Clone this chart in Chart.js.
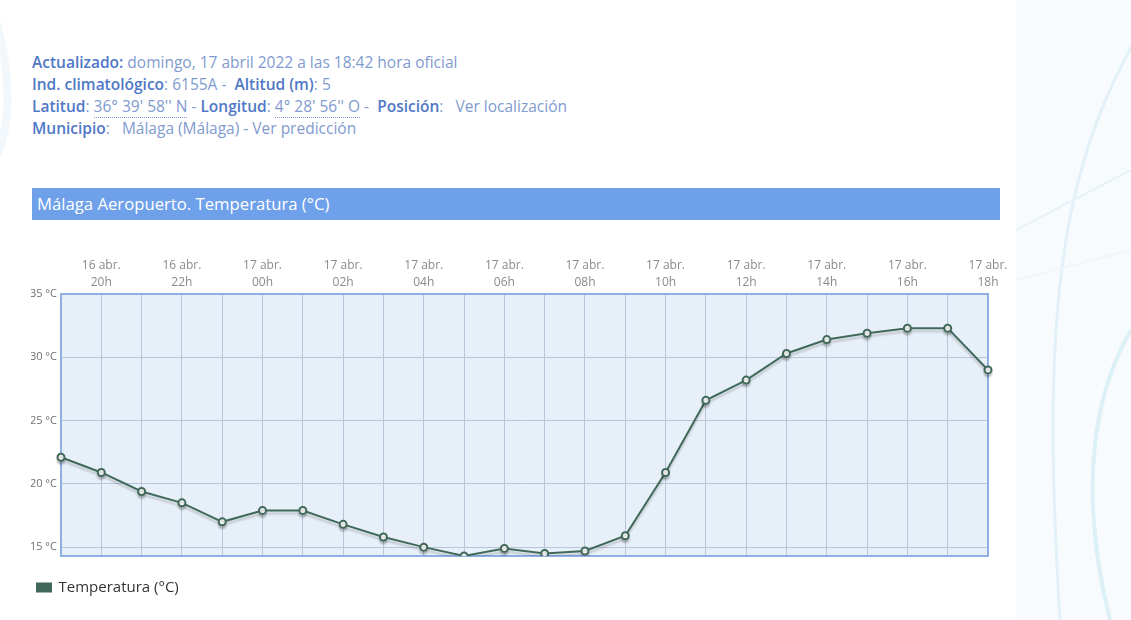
<!DOCTYPE html>
<html>
<head>
<meta charset="utf-8">
<script src="https://cdn.jsdelivr.net/npm/chart.js@4"></script>
<style>
  body { margin: 0; width: 1131px; height: 620px; overflow: hidden; background: #fff; font-family: "Open Sans", sans-serif; position: relative; }
  #deco { position: absolute; left: 0; top: 0; width: 1131px; height: 620px; }
  #info { position: absolute; left: 32px; top: 51px; font-size: 15.5px; line-height: 22px; color: #7f9bd0; }
  #info b { color: #4f78c6; font-weight: 600; }
  #info .dot { border-bottom: 1px dotted #7f9bd0; }
  #bar { position: absolute; left: 32px; top: 188px; width: 968px; height: 32px; background: #6fa0ea; color: #fff; font-size: 16.7px; line-height: 32px; }
  #bar span { padding-left: 5px; }
  #wrap { position: absolute; left: 0; top: 240px; width: 1012px; height: 365px; }
</style>
</head>
<body>
<svg id="deco" viewBox="0 0 1131 620">
  <rect x="1016" y="0" width="115" height="620" fill="#f8fbfd"/>
  <path d="M1160 0 C1060 150 1040 300 1060 620" stroke="#e2f1f8" stroke-width="3" fill="none"/>
  <path d="M1131 330 C1090 400 1080 500 1110 620" stroke="#dcf0f8" stroke-width="4" fill="none"/>
  <path d="M1016 230 L1131 170" stroke="#e8f3f8" stroke-width="2" fill="none"/>
  <path d="M1016 280 L1131 250" stroke="#eef6fa" stroke-width="2" fill="none"/>
  <path d="M-20 180 C20 140 10 60 -10 0" stroke="#f1f7fb" stroke-width="8" fill="none"/>
</svg>

<div id="info">
  <div><b>Actualizado:</b> domingo, 17 abril 2022 a las 18:42 hora oficial</div>
  <div><b>Ind. climatológico</b>: 6155A -&nbsp; <b>Altitud (m)</b>: 5</div>
  <div><b>Latitud</b>: <span class="dot">36° 39' 58'' N</span> - <b>Longitud</b>: <span class="dot">4° 28' 56'' O</span> -&nbsp; <b>Posición</b>:&nbsp;&nbsp; Ver localización</div>
  <div><b>Municipio</b>:&nbsp;&nbsp; Málaga (Málaga) - Ver predicción</div>
</div>

<div id="bar"><span>Málaga Aeropuerto. Temperatura (°C)</span></div>

<div id="wrap"><canvas id="tempChart"></canvas></div>

<script>
// Hourly observations, 16 abr. 19h -> 17 abr. 18h
const days = ['16 abr.', '16 abr.', '16 abr.', '16 abr.', '16 abr.',
              '17 abr.', '17 abr.', '17 abr.', '17 abr.', '17 abr.', '17 abr.', '17 abr.',
              '17 abr.', '17 abr.', '17 abr.', '17 abr.', '17 abr.', '17 abr.', '17 abr.',
              '17 abr.', '17 abr.', '17 abr.', '17 abr.', '17 abr.'];
const hours = ['19h', '20h', '21h', '22h', '23h', '00h', '01h', '02h', '03h', '04h', '05h', '06h',
               '07h', '08h', '09h', '10h', '11h', '12h', '13h', '14h', '15h', '16h', '17h', '18h'];
const temps = [22.1, 20.9, 19.4, 18.5, 17.0, 17.9, 17.9, 16.8, 15.8, 15.0, 14.3, 14.9,
               14.5, 14.7, 15.9, 20.9, 26.6, 28.2, 30.3, 31.4, 31.9, 32.3, 32.3, 29.0];

const lineColor = '#41695a';

// plot background + frame, drawn under the line
const plotFrame = {
    id: 'plotFrame',
    beforeDraw(chart) {
        const a = chart.chartArea, ctx = chart.ctx;
        ctx.save();
        ctx.fillStyle = '#e7eff9';
        ctx.fillRect(a.left, a.top, a.right - a.left, a.bottom - a.top);
        ctx.restore();
    },
    beforeDatasetsDraw(chart) {
        const a = chart.chartArea, ctx = chart.ctx;
        ctx.save();
        ctx.strokeStyle = '#8eb0e4';
        ctx.lineWidth = 2;
        ctx.strokeRect(a.left, a.top, a.right - a.left, a.bottom - a.top);
        ctx.restore();
    },
    beforeDatasetDraw(chart) {
        const ctx = chart.ctx;
        ctx.save();
        ctx.shadowColor = 'rgba(0,0,0,0.18)';
        ctx.shadowOffsetY = 3;
        ctx.shadowBlur = 2;
    },
    afterDatasetDraw(chart) {
        chart.ctx.restore();
    }
};

new Chart(document.getElementById('tempChart'), {
    type: 'line',
    data: {
        labels: hours,
        datasets: [{
            label: 'Temperatura (°C)',
            data: temps,
            borderColor: lineColor,
            backgroundColor: lineColor,
            borderWidth: 2,
            pointRadius: 3.5,
            pointBorderWidth: 2,
            pointBackgroundColor: '#fff',
            pointBorderColor: lineColor,
            tension: 0
        }]
    },
    options: {
        responsive: true,
        maintainAspectRatio: false,
        animation: false,
        layout: { padding: { left: 31, right: 24, top: 0, bottom: 0 } },
        plugins: {
            legend: {
                position: 'bottom',
                align: 'start',
                // empty title only used as spacing above the legend item
                title: { display: true, text: ' ', font: { size: 10 }, padding: { top: 6, bottom: 0 } },
                labels: {
                    boxWidth: 14,
                    boxHeight: 8,
                    padding: 6,
                    color: '#333',
                    font: { family: 'Open Sans', size: 15 }
                }
            },
            tooltip: { enabled: false }
        },
        scales: {
            x: {
                position: 'top',
                offset: false,
                afterFit(scale) { scale.height = 54; },
                grid: { color: '#b9c5d8', drawTicks: false },
                border: { display: false },
                ticks: {
                    autoSkip: false,
                    maxRotation: 0,
                    padding: 3,
                    color: '#8a8a8a',
                    font: { family: 'Open Sans', size: 12, lineHeight: 1.4 },
                    callback: (v, i) => i % 2 === 1 ? [days[i], hours[i]] : ''
                }
            },
            y: {
                min: 14.3,
                max: 35,
                afterFit(scale) { scale.width = 30; },
                grid: { color: '#b9c5d8', drawTicks: false },
                border: { display: false },
                ticks: {
                    stepSize: 5,
                    includeBounds: false,
                    padding: 4,
                    color: '#707070',
                    font: { family: 'Open Sans', size: 11 },
                    callback: v => v + ' °C'
                }
            }
        }
    },
    plugins: [plotFrame]
});
</script>
</body>
</html>
